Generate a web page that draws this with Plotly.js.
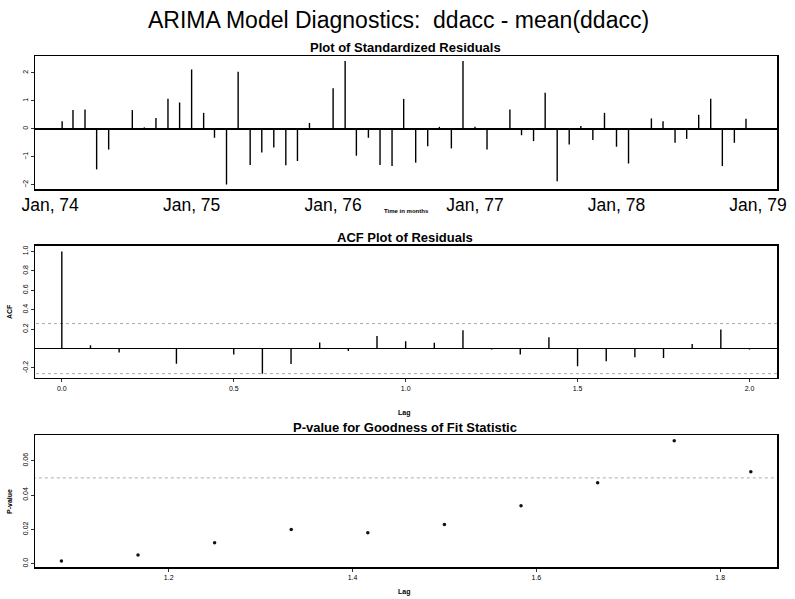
<!DOCTYPE html>
<html>
<head>
<meta charset="utf-8">
<script src="https://cdn.plot.ly/plotly-3.0.1.min.js"></script>
<style>html,body{margin:0;padding:0;background:#fff}#plot{width:795px;height:599px}</style>
</head>
<body>
<div id="plot"></div>
<script>
// ---- data ----
const residStart = [1974, 2]; // first month of the residual series (Feb 1974)
const residuals = [0.27,0.67,0.69,-1.45,-0.74,-0.03,0.67,0.05,0.39,1.07,0.94,2.12,0.57,-0.32,-1.99,
  2.04,-1.29,-0.85,-0.67,-1.30,-1.15,0.21,-0.02,1.45,2.42,-0.96,-0.32,-1.29,-1.33,
  1.07,-1.21,-0.62,0.07,-0.70,2.42,0.07,-0.74,0.00,0.69,-0.23,-0.44,1.29,-1.87,-0.56,
  0.10,-0.40,0.57,-0.64,-1.24,-0.04,0.37,0.27,-0.50,-0.36,0.50,1.07,-1.33,-0.50,0.36];
const yearTickVals = ['1974-01-01','1975-01-01','1976-01-01','1977-01-01','1978-01-01','1979-01-01'];
const yearTickText = ['Jan, 74','Jan, 75','Jan, 76','Jan, 77','Jan, 78','Jan, 79'];

const acfLagMonths = [0,1,2,3,4,5,6,7,8,9,10,11,12,13,14,15,16,17,18,19,20,21,22,23,24];
const acfValues = [1.0,0.034,-0.04,0.005,-0.155,0.0,-0.062,-0.26,-0.16,0.062,-0.024,0.13,
  0.076,0.059,0.19,-0.01,-0.062,0.117,-0.183,-0.131,-0.09,-0.097,0.048,0.197,-0.01];
const acfBound = 0.258;
const acfTickVals = [0,0.5,1,1.5,2];
const acfTickText = ['0.0','0.5','1.0','1.5','2.0'];

const pvalLagMonths = [13,14,15,16,17,18,19,20,21,22];
const pValues = [0.0016,0.005,0.0122,0.020,0.018,0.0229,0.0338,0.0472,0.0717,0.0536];
const pvalLevel = 0.05;
const pvalTickVals = [1.2,1.4,1.6,1.8];
const pvalTickText = ['1.2','1.4','1.6','1.8'];

// ---- build traces ----
function monthStr(y, m){ return y + '-' + String(m).padStart(2,'0') + '-01'; }
const residDates = residuals.map((v,i)=>{
  const t = residStart[0]*12 + (residStart[1]-1) + i;
  return monthStr(Math.floor(t/12), (t%12)+1);
});
function spikes(xs, ys){
  const X=[],Y=[];
  xs.forEach((x,i)=>{X.push(x,x,null);Y.push(0,ys[i],null);});
  return {X,Y};
}
const rs = spikes(residDates, residuals);
const acfLags = acfLagMonths.map(k=>k/12);
const as = spikes(acfLags, acfValues);
const pLags = pvalLagMonths.map(k=>k/12);

const W=795,H=599;
const xd=[35/W,777/W];
const yd1=[1-189/H,1-56/H], yd2=[1-377.7/H,1-245.7/H], yd3=[1-567.3/H,1-435/H];

const traces = [
  {x:rs.X,y:rs.Y,xaxis:'x',yaxis:'y',mode:'lines',line:{color:'#000',width:1.4},hoverinfo:'skip'},
  {x:[-1,3],y:[acfBound,acfBound],xaxis:'x2',yaxis:'y2',mode:'lines',line:{color:'#aaa',width:1,dash:'dot'}},
  {x:[-1,3],y:[-acfBound,-acfBound],xaxis:'x2',yaxis:'y2',mode:'lines',line:{color:'#aaa',width:1,dash:'dot'}},
  {x:as.X,y:as.Y,xaxis:'x2',yaxis:'y2',mode:'lines',line:{color:'#000',width:1.4}},
  {x:[1,2],y:[pvalLevel,pvalLevel],xaxis:'x3',yaxis:'y3',mode:'lines',line:{color:'#aaa',width:1,dash:'dot'}},
  {x:pLags,y:pValues,xaxis:'x3',yaxis:'y3',mode:'markers',marker:{color:'#111',size:3.5}}
];

const FF = 'Liberation Sans, Arial, sans-serif';
const tickFont = {family:FF,size:7,color:'#000'};
const boxAxis = {showline:true,linecolor:'#000',linewidth:1.5,mirror:true,showgrid:false,zeroline:false,
  ticks:'outside',ticklen:3,tickcolor:'#333',tickfont:tickFont,fixedrange:true};

const layout = {
  width:W,height:H,margin:{l:0,r:0,t:0,b:0},showlegend:false,
  paper_bgcolor:'#fff',plot_bgcolor:'#fff',
  font:{family:FF,color:'#000'},
  xaxis:Object.assign({},boxAxis,{domain:xd,anchor:'y',type:'date',range:['1973-11-23','1979-02-19'],
    tickvals:yearTickVals,ticktext:yearTickText,tickfont:{family:FF,size:17.5,color:'#000'},ticks:'',ticklabelstandoff:-1}),
  yaxis:Object.assign({},boxAxis,{domain:yd1,anchor:'x',range:[-2.15,2.6],tickvals:[-2,-1,0,1,2],
    tickangle:-90,zeroline:true,zerolinecolor:'#000',zerolinewidth:1.5}),
  xaxis2:Object.assign({},boxAxis,{domain:xd,anchor:'y2',range:[-0.078,2.08],tickvals:acfTickVals,ticktext:acfTickText}),
  yaxis2:Object.assign({},boxAxis,{domain:yd2,anchor:'x2',range:[-0.30,1.06],tickvals:[-0.2,0.2,0.4,0.6,0.8,1.0],
    ticktext:['-0.2','0.2','0.4','0.6','0.8','1.0'],tickangle:-90,zeroline:true,zerolinecolor:'#000',zerolinewidth:1.5}),
  xaxis3:Object.assign({},boxAxis,{domain:xd,anchor:'y3',range:[1.0546,1.8618],tickvals:pvalTickVals,ticktext:pvalTickText}),
  yaxis3:Object.assign({},boxAxis,{domain:yd3,anchor:'x3',range:[-0.0021,0.075],tickvals:[0,0.02,0.04,0.06],
    ticktext:['0.0','0.02','0.04','0.06'],tickangle:-90}),
  annotations:[
    {text:'ARIMA Model Diagnostics:  ddacc - mean(ddacc)',x:398/W,y:1-20/H,xref:'paper',yref:'paper',showarrow:false,
      xanchor:'center',yanchor:'middle',font:{size:23,color:'#000'}},
    {text:'<b>Plot of Standardized Residuals</b>',x:405/W,y:1-47/H,xref:'paper',yref:'paper',showarrow:false,
      xanchor:'center',yanchor:'middle',font:{size:13,color:'#000'}},
    {text:'<b>Time in months</b>',x:406/W,y:1-211.5/H,xref:'paper',yref:'paper',showarrow:false,
      xanchor:'center',yanchor:'middle',font:{size:6,color:'#000'}},
    {text:'<b>ACF Plot of Residuals</b>',x:405/W,y:1-238/H,xref:'paper',yref:'paper',showarrow:false,
      xanchor:'center',yanchor:'middle',font:{size:13,color:'#000'}},
    {text:'<b>Lag</b>',x:404/W,y:1-413/H,xref:'paper',yref:'paper',showarrow:false,
      xanchor:'center',yanchor:'middle',font:{size:7,color:'#000'}},
    {text:'<b>ACF</b>',x:9/W,y:1-312/H,xref:'paper',yref:'paper',showarrow:false,textangle:-90,
      xanchor:'center',yanchor:'middle',font:{size:7,color:'#000'}},
    {text:'<b>P-value for Goodness of Fit Statistic</b>',x:405/W,y:1-427/H,xref:'paper',yref:'paper',showarrow:false,
      xanchor:'center',yanchor:'middle',font:{size:13,color:'#000'}},
    {text:'<b>Lag</b>',x:404/W,y:1-592/H,xref:'paper',yref:'paper',showarrow:false,
      xanchor:'center',yanchor:'middle',font:{size:7,color:'#000'}},
    {text:'<b>P-value</b>',x:9/W,y:1-502/H,xref:'paper',yref:'paper',showarrow:false,textangle:-90,
      xanchor:'center',yanchor:'middle',font:{size:7,color:'#000'}}
  ]
};
Plotly.newPlot('plot',traces,layout,{staticPlot:true,displayModeBar:false});
</script>
</body>
</html>
